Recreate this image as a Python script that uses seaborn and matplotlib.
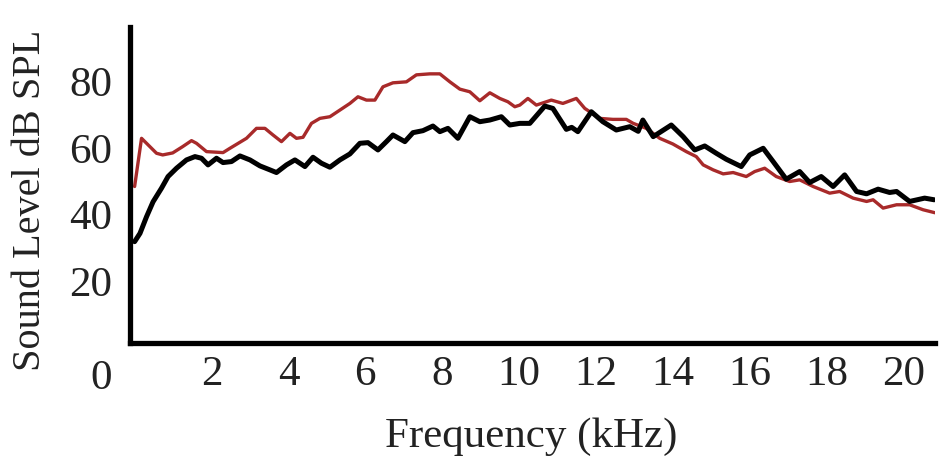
import matplotlib
matplotlib.use("Agg")
import matplotlib.pyplot as plt
import seaborn as sns
import pandas as pd

# ---- data ----
red_freq = [0.0, 0.18, 0.31, 0.57, 0.73, 0.99, 1.25, 1.48, 1.61, 1.87, 2.3, 2.48, 2.91, 3.17,
            3.39, 3.6, 3.82, 4.04, 4.21, 4.38, 4.6, 4.82, 5.08, 5.34, 5.6, 5.81, 6.03, 6.25,
            6.46, 6.72, 7.07, 7.33, 7.68, 7.94, 8.2, 8.46, 8.72, 8.98, 9.24, 9.5, 9.71, 9.89,
            10.02, 10.23, 10.45, 10.84, 11.14, 11.49, 11.71, 12.1, 12.44, 12.79, 12.97, 13.31,
            13.66, 14.0, 14.35, 14.61, 14.79, 15.05, 15.31, 15.57, 15.91, 16.13, 16.39, 16.69,
            17.04, 17.3, 17.65, 18.08, 18.34, 18.69, 19.04, 19.21, 19.47, 19.82, 20.16, 20.51,
            20.82]
red_db = [48.4, 62.9, 61.4, 58.4, 57.9, 58.5, 60.4, 62.2, 61.4, 58.9, 58.6, 59.9, 62.9, 65.9,
          65.9, 63.9, 61.9, 64.4, 62.9, 63.2, 67.4, 68.9, 69.4, 71.4, 73.4, 75.4, 74.4, 74.4,
          78.4, 79.6, 79.9, 82.0, 82.3, 82.3, 79.9, 77.7, 76.9, 74.2, 76.6, 74.9, 73.9, 72.4,
          72.9, 74.9, 72.9, 74.4, 73.4, 74.9, 71.9, 68.9, 68.6, 68.6, 67.4, 65.9,
          62.9, 61.2, 58.9, 57.4, 54.9, 53.4, 52.2, 52.6, 51.4, 52.9, 53.9, 51.4,
          49.9, 50.4, 48.4, 46.4, 46.9, 44.9, 43.9, 44.4, 41.9, 42.9, 42.9, 41.4,
          40.5]

black_freq = [0.0, 0.14, 0.31, 0.48, 0.7, 0.87, 1.09, 1.35, 1.57, 1.74, 1.91, 2.13, 2.3, 2.52,
              2.74, 3.0, 3.26, 3.52, 3.69, 3.95, 4.17, 4.43, 4.64, 4.86, 5.08, 5.34, 5.6, 5.86,
              6.07, 6.33, 6.55, 6.72, 7.03, 7.24, 7.5, 7.76, 7.94, 8.15, 8.41, 8.72, 8.98, 9.24,
              9.54, 9.76, 10.02, 10.28, 10.67, 10.88, 11.23, 11.37, 11.53, 11.88, 12.18, 12.53,
              12.88, 13.1, 13.22, 13.49, 13.96, 14.27, 14.57, 14.83, 15.13, 15.39, 15.78, 16.0,
              16.35, 16.61, 16.95, 17.3, 17.56, 17.86, 18.17, 18.47, 18.78, 19.04, 19.34, 19.64,
              19.82, 20.16, 20.55, 20.8]
black_db = [31.8, 34.3, 39.3, 43.8, 47.9, 51.4, 53.9, 56.4, 57.4, 56.9, 54.9, 56.9, 55.6, 55.9,
            57.6, 56.4, 54.6, 53.4, 52.6, 54.9, 56.4, 54.4, 57.2, 55.4, 54.2, 56.4, 58.2, 61.4,
            61.6, 59.4, 61.9, 63.9, 61.9, 64.6, 65.2, 66.6, 64.9, 65.9, 62.9, 69.4, 67.9, 68.4,
            69.4, 66.9, 67.4, 67.4, 72.6, 71.9, 65.6, 66.2, 64.9, 70.9, 67.9, 65.4,
            66.4, 65.0, 68.4, 63.4, 66.9, 63.4, 59.4, 60.6, 58.4, 56.6, 54.4, 57.9,
            59.9, 55.9, 50.6, 52.9, 49.6, 51.4, 48.4, 51.9, 46.9, 46.2, 47.6, 46.6,
            46.9, 43.9, 44.9, 44.4]

x_ticks = [2, 4, 6, 8, 10, 12, 14, 16, 18, 20]
y_ticks = [20, 40, 60, 80]
x_label = "Frequency (kHz)"
y_label = "Sound Level dB SPL"
corner_label = "0"

RED = "#a82a2a"

sns.set_style("white")
plt.rcParams["font.family"] = ["Liberation Serif", "DejaVu Serif"]

df_red = pd.DataFrame({"freq": red_freq, "db": red_db})
df_black = pd.DataFrame({"freq": black_freq, "db": black_db})

W, H = 940, 462
fig = plt.figure(figsize=(W / 100, H / 100), dpi=100)
ax = fig.add_axes([130 / W, 1 - 343 / H, (935 - 130) / W, (343 - 27) / H])

sns.lineplot(data=df_red, x="freq", y="db", ax=ax, color=RED, linewidth=2.4,
             estimator=None, sort=False)
sns.lineplot(data=df_black, x="freq", y="db", ax=ax, color="black", linewidth=3.6,
             estimator=None, sort=False)

ax.set_xlim(-0.12, 20.82)
ax.set_ylim(1.3, 96.4)
ax.set_xticks(x_ticks)
ax.set_yticks(y_ticks)
ax.tick_params(axis="both", length=0, labelsize=31, colors="#222222")
ax.tick_params(axis="x", pad=9)
ax.tick_params(axis="y", pad=13)
ax.set_xlabel("")
ax.set_ylabel("")

for side in ["top", "right"]:
    ax.spines[side].set_visible(False)
for side in ["left", "bottom"]:
    ax.spines[side].set_linewidth(3.8)
    ax.spines[side].set_color("black")
    ax.spines[side].set_capstyle("projecting")

fig.text(531 / W, 1 - 437 / H, x_label, ha="center", va="center", fontsize=31, color="#222222")
fig.text(31 / W, 1 - 200 / H, y_label, ha="center", va="center", rotation=90,
         fontsize=29, color="#222222")
fig.text(100.7 / W, 1 - 379 / H, corner_label, ha="center", va="center", fontsize=31,
         color="#222222")

fig.savefig("out.png", dpi=100)
